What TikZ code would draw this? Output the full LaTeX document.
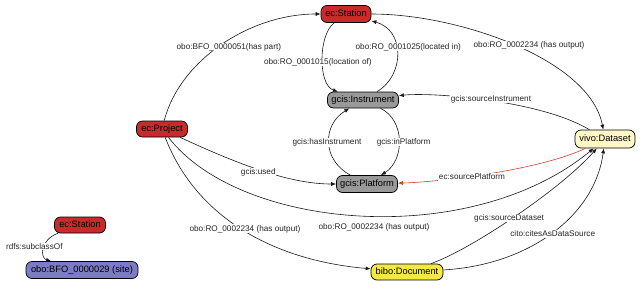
\documentclass[tikz,border=0pt]{standalone}
\usepackage{fontspec}
\setmainfont{Liberation Sans}
\usetikzlibrary{arrows.meta}
\definecolor{ecred}{HTML}{C92A2C}
\definecolor{gisgray}{HTML}{999999}
\definecolor{vivocream}{HTML}{FFF8C6}
\definecolor{biboyellow}{HTML}{F4E845}
\definecolor{oboblue}{HTML}{7C7CC4}
\definecolor{redline}{HTML}{D0412F}
\begin{document}
\begin{tikzpicture}[x=1pt,y=-1pt,
  nd/.style={draw=black, line width=0.7pt, rounded corners=6pt,
    font=\fontsize{9.3}{10}\selectfont, inner sep=0pt,
    text height=6.8pt, text depth=1.9pt},
  lbl/.style={font=\fontsize{8.2}{9}\selectfont, fill=white, inner sep=0.6pt, text=black!85},
  ed/.style={draw=black!90, line width=0.6pt, -{Latex[length=5pt,width=4pt]}}]
\useasboundingbox (0,0) rectangle (640,287);
% nodes
\node[nd, fill=ecred, minimum width=50pt, minimum height=17pt] (station) at (346,14) {ec:Station};
\node[nd, fill=ecred, minimum width=51pt, minimum height=16pt] (project) at (162,129) {ec:Project};
\node[nd, fill=gisgray, minimum width=71pt, minimum height=16pt] (instr) at (363,100) {gcis:Instrument};
\node[nd, fill=gisgray, minimum width=61pt, minimum height=17pt] (platform) at (367,184) {gcis:Platform};
\node[nd, fill=vivocream, minimum width=60pt, minimum height=18pt] (dataset) at (605,139) {vivo:Dataset};
\node[nd, fill=biboyellow, minimum width=72pt, minimum height=16pt] (document) at (407,272) {bibo:Document};
\node[nd, fill=ecred, minimum width=51pt, minimum height=16pt] (station2) at (80,225) {ec:Station};
\node[nd, fill=oboblue, minimum width=112pt, minimum height=17pt] (site) at (82,270) {obo:BFO\_0000029 (site)};
% edges
\draw[ed] (project) .. controls (180,60) and (250,14) .. (station)
  node[lbl, pos=.5, xshift=7pt, yshift=-2.4pt] (l1) {obo:BFO\_0000051(has part)};
\draw[ed] (station) .. controls (318,35) and (318,85) .. (instr)
  node[lbl, pos=.5, xshift=-4.7pt, yshift=-2.7pt] (l2) {obo:RO\_0001015(location of)};
\draw[ed] (instr) .. controls (405,75) and (405,30) .. (station)
  node[lbl, pos=.5, xshift=11pt, yshift=6.5pt] (l3) {obo:RO\_0001025(located in)};
\draw[ed] (station) .. controls (460,14) and (590,60) .. (dataset)
  node[lbl, pos=.5, xshift=13.5pt, yshift=0.75pt] (l4) {obo:RO\_0002234 (has output)};
\draw[ed] (dataset) .. controls (540,100) and (430,92) .. (instr)
  node[lbl, pos=.5, xshift=3.7pt, yshift=1.2pt] (l5) {gcis:sourceInstrument};
\draw[ed] (platform) .. controls (322,160) and (322,125) .. (instr)
  node[lbl, pos=.5, xshift=-2pt, yshift=0pt] (l6) {gcis:hasInstrument};
\draw[ed] (instr) .. controls (405,120) and (405,160) .. (platform)
  node[lbl, pos=.5, xshift=4.7pt, yshift=-1.6pt] (l7) {gcis:inPlatform};
\draw[ed] (project) .. controls (240,165) and (290,184) .. (platform)
  node[lbl, pos=.5, xshift=-5pt, yshift=-1pt] (l8) {gcis:used};
\draw[ed] (project) .. controls (240,230) and (470,250) .. (dataset)
  node[lbl, pos=.5, xshift=12.5pt, yshift=-11.4pt] (l9) {obo:RO\_0002234 (has output)};
\draw[ed] (project) .. controls (195,215) and (270,260) .. (document)
  node[lbl, pos=.5, xshift=3.6pt, yshift=0pt] (l10) {obo:RO\_0002234 (has output)};
\draw[ed, draw=redline, -{Latex[length=5pt,width=4pt]}] (dataset) .. controls (540,170) and (440,182) .. (platform)
  node[lbl, pos=.5, xshift=-18.4pt, yshift=-3.6pt] (l11) {ec:sourcePlatform};
\draw[ed] (document) .. controls (470,250) and (560,190) .. (dataset)
  node[lbl, pos=.5, xshift=-5.6pt, yshift=-1.5pt] (l12) {gcis:sourceDataset};
\draw[ed] (document) .. controls (530,265) and (595,215) .. (dataset)
  node[lbl, pos=.5, xshift=0pt, yshift=-1.7pt] (l13) {cito:citesAsDataSource};
\draw[ed] (station2) .. controls (40,240) and (40,258) .. (site)
  node[lbl, pos=.5, xshift=-9.3pt, yshift=1.9pt] (l14) {rdfs:subclassOf};
\end{tikzpicture}
\end{document}
